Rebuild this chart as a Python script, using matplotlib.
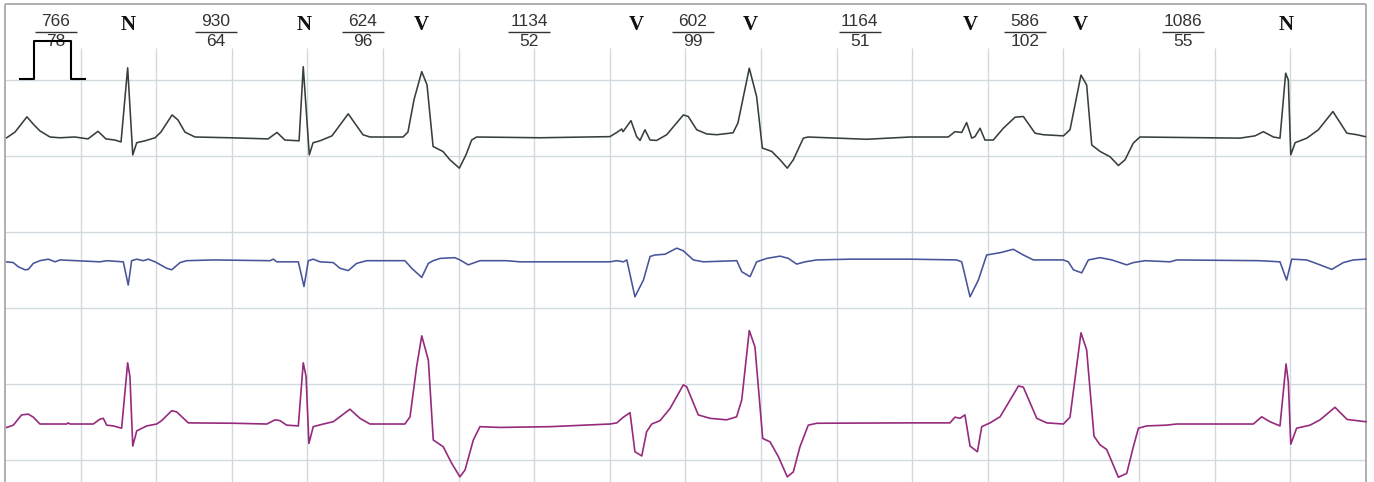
import matplotlib.pyplot as plt

# beat annotations
beat_labels = ["N", "N", "V", "V", "V", "V", "V", "N"]
beat_times = [0.651, 1.581, 2.205, 3.339, 3.941, 5.105, 5.691, 6.777]
rr_ms = [766, 930, 624, 1134, 602, 1164, 586, 1086]
hr_bpm = [78, 64, 96, 52, 99, 51, 102, 55]

# calibration pulse (s, mV)
cal_t = [0.079, 0.155, 0.155, 0.348, 0.348, 0.423]
cal_v = [0, 0, 1, 1, 0, 0]

# channel 1 (s, mV)
ch1_t = [0.009, 0.053, 0.116, 0.153, 0.185, 0.238, 0.291, 0.370, 0.439, 0.492,
         0.534, 0.582, 0.614, 0.649, 0.676, 0.697, 0.741, 0.794, 0.825, 0.884,
         0.915, 0.952, 1.005, 1.190, 1.392, 1.439, 1.481, 1.556, 1.578, 1.610,
         1.630, 1.667, 1.730, 1.816, 1.857, 1.894, 1.931, 2.106, 2.132, 2.164,
         2.205, 2.233, 2.265, 2.317, 2.354, 2.404, 2.439, 2.469, 2.495, 2.831,
         3.201, 3.237, 3.263, 3.270, 3.312, 3.342, 3.360, 3.386, 3.413, 3.448,
         3.501, 3.589, 3.615, 3.660, 3.713, 3.766, 3.852, 3.878, 3.938, 3.977,
         4.007, 4.057, 4.101, 4.139, 4.171, 4.224, 4.249, 4.559, 4.788, 4.991,
         5.026, 5.062, 5.088, 5.115, 5.132, 5.159, 5.185, 5.229, 5.282, 5.344,
         5.388, 5.450, 5.494, 5.600, 5.635, 5.693, 5.723, 5.750, 5.794, 5.847,
         5.891, 5.926, 5.970, 6.005, 6.534, 6.614, 6.658, 6.711, 6.746, 6.776,
         6.790, 6.803, 6.826, 6.888, 6.949, 7.026, 7.100, 7.153, 7.197]
ch1_v = [-0.01, 0.14, 0.54, 0.33, 0.17, 0.01, -0.01, 0.01, -0.04, 0.16,
         -0.04, -0.07, -0.12, 1.83, -0.46, -0.14, -0.09, -0.01, 0.14, 0.59,
         0.46, 0.14, 0.01, -0.01, -0.04, 0.13, -0.07, -0.09, 1.86, -0.46,
         -0.14, -0.09, 0.04, 0.62, 0.33, 0.07, 0.01, 0.01, 0.14, 0.99,
         1.73, 1.38, -0.24, -0.37, -0.59, -0.81, -0.46, -0.07, 0.01, -0.01,
         0.02, 0.13, 0.22, 0.15, 0.44, 0.02, -0.08, 0.20, -0.07, -0.08,
         0.07, 0.59, 0.55, 0.20, 0.09, 0.07, 0.12, 0.38, 1.82, 1.07,
         -0.28, -0.37, -0.59, -0.81, -0.59, -0.02, 0.01, -0.05, 0.01, 0.01,
         0.15, 0.13, 0.39, -0.02, 0.02, 0.24, -0.07, -0.07, 0.24, 0.53,
         0.55, 0.11, 0.07, 0.04, 0.20, 1.64, 1.38, -0.20, -0.37, -0.51,
         -0.74, -0.59, -0.15, 0.01, -0.02, 0.04, 0.15, 0.01, -0.02, 1.69,
         1.51, -0.46, -0.14, -0.02, 0.20, 0.68, 0.11, 0.07, 0.02]

# channel 2
ch2_t = [0.009, 0.044, 0.070, 0.106, 0.123, 0.150, 0.185, 0.229, 0.265, 0.291,
         0.503, 0.538, 0.626, 0.652, 0.670, 0.697, 0.732, 0.758, 0.794, 0.856,
         0.882, 0.926, 0.961, 1.102, 1.402, 1.420, 1.438, 1.552, 1.582, 1.605,
         1.631, 1.667, 1.737, 1.772, 1.816, 1.861, 1.914, 2.116, 2.152, 2.205,
         2.240, 2.266, 2.302, 2.380, 2.407, 2.451, 2.513, 2.654, 2.725, 3.201,
         3.237, 3.272, 3.290, 3.333, 3.378, 3.413, 3.439, 3.492, 3.554, 3.589,
         3.642, 3.695, 3.872, 3.898, 3.942, 3.977, 4.030, 4.101, 4.145, 4.189,
         4.233, 4.295, 4.471, 4.788, 5.035, 5.062, 5.106, 5.150, 5.194, 5.265,
         5.335, 5.388, 5.441, 5.600, 5.626, 5.653, 5.697, 5.732, 5.794, 5.856,
         5.935, 5.970, 6.032, 6.164, 6.199, 6.640, 6.746, 6.781, 6.808, 6.887,
         6.958, 7.020, 7.081, 7.134, 7.201]
ch2_v = [-0.03, -0.05, -0.16, -0.24, -0.23, -0.07, 0.00, 0.04, -0.03, 0.02,
         -0.03, 0.00, -0.03, -0.64, 0.00, 0.04, 0.00, 0.04, -0.03, -0.20,
         -0.24, -0.05, 0.00, 0.02, 0.00, 0.04, -0.03, -0.03, -0.68, 0.00,
         0.04, -0.03, -0.05, -0.20, -0.26, -0.07, 0.00, 0.00, -0.20, -0.44,
         -0.07, 0.00, 0.06, 0.08, 0.02, -0.11, 0.00, 0.00, -0.03, -0.03,
         0.00, -0.03, 0.02, -0.95, -0.51, 0.11, 0.15, 0.17, 0.33, 0.26,
         0.02, -0.03, 0.00, -0.29, -0.42, -0.03, 0.06, 0.12, 0.06, -0.09,
         -0.03, 0.02, 0.04, 0.04, 0.02, -0.03, -0.95, -0.51, 0.15, 0.21,
         0.30, 0.15, 0.02, 0.02, -0.03, -0.24, -0.32, 0.02, 0.08, 0.02,
         -0.11, -0.05, 0.00, -0.03, 0.02, 0.00, -0.03, -0.51, 0.04, 0.02,
         -0.11, -0.23, -0.05, 0.02, 0.04]

# channel 3
ch3_t = [0.009, 0.044, 0.088, 0.123, 0.150, 0.185, 0.326, 0.335, 0.344, 0.467,
         0.503, 0.520, 0.538, 0.573, 0.617, 0.649, 0.661, 0.676, 0.697, 0.750,
         0.803, 0.829, 0.882, 0.908, 0.970, 1.208, 1.385, 1.429, 1.455, 1.490,
         1.552, 1.578, 1.593, 1.608, 1.631, 1.684, 1.737, 1.825, 1.878, 1.931,
         2.116, 2.143, 2.178, 2.205, 2.240, 2.266, 2.319, 2.363, 2.407, 2.434,
         2.478, 2.513, 2.619, 2.884, 3.201, 3.237, 3.272, 3.307, 3.333, 3.369,
         3.395, 3.422, 3.466, 3.519, 3.589, 3.607, 3.668, 3.730, 3.818, 3.871,
         3.898, 3.938, 3.968, 4.009, 4.048, 4.092, 4.139, 4.171, 4.206, 4.250,
         4.295, 4.788, 5.000, 5.026, 5.053, 5.079, 5.106, 5.145, 5.168, 5.212,
         5.265, 5.362, 5.388, 5.459, 5.512, 5.600, 5.635, 5.693, 5.723, 5.762,
         5.794, 5.829, 5.891, 5.935, 5.970, 5.997, 6.041, 6.146, 6.199, 6.605,
         6.649, 6.693, 6.746, 6.778, 6.790, 6.803, 6.834, 6.905, 6.958, 7.037,
         7.101, 7.201]
ch3_v = [-0.09, -0.03, 0.24, 0.26, 0.18, 0.00, 0.00, 0.03, 0.00, 0.00,
         0.13, 0.15, -0.03, -0.05, -0.11, 1.61, 1.25, -0.58, -0.18, -0.05,
         0.00, 0.09, 0.35, 0.32, 0.03, 0.02, 0.00, 0.11, 0.09, -0.03,
         -0.05, 1.61, 1.25, -0.51, -0.07, 0.00, 0.06, 0.39, 0.15, 0.00,
         0.00, 0.19, 1.51, 2.32, 1.68, -0.42, -0.60, -1.03, -1.39, -1.21,
         -0.42, -0.07, -0.09, -0.07, 0.00, 0.03, 0.18, 0.30, -0.73, -0.84,
         -0.20, 0.00, 0.09, 0.41, 1.03, 0.98, 0.24, 0.15, 0.11, 0.19,
         0.63, 2.46, 2.03, -0.38, -0.47, -0.86, -1.39, -1.26, -0.60, -0.03,
         0.02, 0.03, 0.03, 0.18, 0.15, 0.24, -0.58, -0.73, -0.07, 0.03,
         0.19, 1.00, 0.97, 0.15, 0.03, 0.00, 0.18, 2.40, 1.95, -0.32,
         -0.55, -0.67, -1.40, -1.30, -0.60, -0.11, -0.05, -0.03, 0.00, 0.00,
         0.19, 0.06, -0.05, 1.58, 1.11, -0.53, -0.11, -0.03, 0.11, 0.44,
         0.12, 0.06]

fig = plt.figure(figsize=(13.74, 4.82), dpi=100)
ax = fig.add_axes([0, 0, 1, 1])
ax.set_xlim(-5 / 189, 1369 / 189)
ax.set_ylim(-22 / 38, 460 / 38)
ax.axis("off")

grid_col = "#cfd9de"
x_end = 7.2
y_bot = -0.6
# grid, 0.4 s x 2 mV boxes
for k in range(1, 18):
    ax.vlines(k * 0.4, y_bot, 10.84, color=grid_col, lw=1.0, zorder=1)
for k in range(0, 6):
    ax.hlines(k * 2, 0, x_end, color=grid_col, lw=1.0, zorder=1)
ax.hlines(12, 0, x_end, color="#a9a9a9", lw=1.3, zorder=1)
ax.vlines([0, x_end], y_bot, 12, color="#a9a9a9", lw=1.3, zorder=1)

# traces with their baselines
ax.plot(ch1_t, [v + 8.49 for v in ch1_v], color="#36403b", lw=1.15, zorder=3)
ax.plot(ch2_t, [v + 5.245 for v in ch2_v], color="#47549a", lw=1.15, zorder=3)
ax.plot(ch3_t, [v + 0.947 for v in ch3_v], color="#962a7c", lw=1.2, zorder=3)

# calibration pulse
ax.plot(cal_t, [v + 10.03 for v in cal_v], color="black", lw=1.5, zorder=4)

# beat labels and RR / HR fractions
for i in range(len(beat_times)):
    t = beat_times[i]
    ax.text(t, 11.46, beat_labels[i], ha="center", va="center",
            family="Liberation Serif", weight="bold", fontsize=15, color="#111111")
    mid = t - rr_ms[i] / 2000
    ax.text(mid, 11.55, str(rr_ms[i]), ha="center", va="center",
            family="Liberation Sans", fontsize=12.5, color="#333333")
    ax.text(mid, 11.0, str(hr_bpm[i]), ha="center", va="center",
            family="Liberation Sans", fontsize=12.5, color="#333333")
    ax.hlines(11.26, mid - 0.111, mid + 0.111, color="#333333", lw=1.0)

fig.savefig("out.png", dpi=100)
